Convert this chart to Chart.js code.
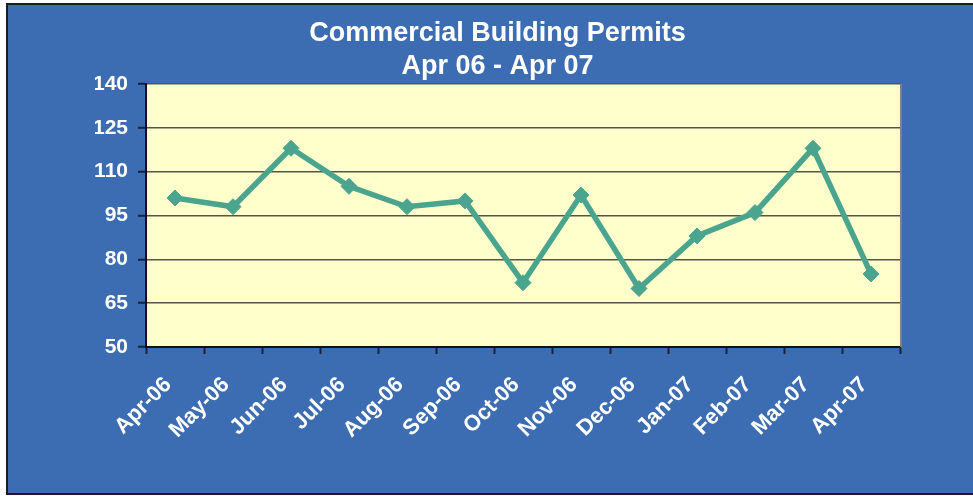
<!DOCTYPE html>
<html>
<head>
<meta charset="utf-8">
<script src="https://cdn.jsdelivr.net/npm/chart.js@4"></script>
<style>
  html, body { margin: 0; padding: 0; background: #fff; }
  #wrap {
    position: absolute; left: 6px; top: 3px;
    width: 967px; height: 492px;
    box-sizing: border-box;
    border: 2px solid #1c1c1c; border-right: none;
    background: #3c6cb1;
  }
  #wrap canvas { display: block; }
</style>
</head>
<body>
<div id="wrap"><canvas id="grafica" width="965" height="488"></canvas></div>
<script>
// datos
var meses = ['Apr-06','May-06','Jun-06','Jul-06','Aug-06','Sep-06','Oct-06','Nov-06','Dec-06','Jan-07','Feb-07','Mar-07','Apr-07'];
var permisos = [101, 98, 118, 105, 98, 100, 72, 102, 70, 88, 96, 118, 75];
var titulo = ['Commercial Building Permits', 'Apr 06 - Apr 07'];
var yMin = 50, yMax = 140, yPaso = 15;

// fondo amarillo del area y borde derecho gris
var plugin = {
  id: 'fondoArea',
  beforeDraw: function (chart) {
    var a = chart.chartArea, ctx = chart.ctx;
    ctx.save();
    ctx.fillStyle = '#ffffcc';
    ctx.fillRect(a.left, a.top, a.right - a.left, a.bottom - a.top);
    ctx.restore();
  },
  afterDatasetsDraw: function (chart) {
    var a = chart.chartArea, ctx = chart.ctx;
    ctx.save();
    ctx.strokeStyle = '#808080';
    ctx.lineWidth = 2;
    ctx.beginPath();
    ctx.moveTo(a.right + 1, a.top);
    ctx.lineTo(a.right + 1, a.bottom);
    ctx.stroke();
    ctx.restore();
  }
};

var w = new Chart(document.getElementById('grafica'), {
  type: 'line',
  data: {
    labels: meses,
    datasets: [{
      data: permisos,
      borderColor: '#4ba58e',
      backgroundColor: '#4ba58e',
      borderWidth: 5.5,
      pointStyle: 'rectRot',
      pointRadius: 8,
      pointBorderWidth: 1,
      tension: 0,
      fill: false
    }]
  },
  options: {
    animation: false,
    responsive: false,
    // padding izquierdo para centrar el titulo como en el original
    layout: { padding: { left: 87, right: 73, top: 0, bottom: 0 } },
    plugins: {
      legend: { display: false },
      tooltip: { enabled: false },
      title: {
        display: true,
        text: titulo,
        color: '#ffffff',
        font: { family: 'Liberation Sans, Arial, sans-serif', size: 27, weight: 'bold', lineHeight: '33px' },
        padding: { top: 12, bottom: 1 }
      }
    },
    scales: {
      x: {
        offset: true,
        grid: {
          offset: true,
          drawOnChartArea: false,
          drawTicks: true,
          tickLength: 7,
          tickColor: '#1a2233',
          tickWidth: 2
        },
        border: { display: true, color: '#111111', width: 2 },
        ticks: {
          color: '#ffffff',
          minRotation: 45,
          maxRotation: 45,
          padding: 18,
          labelOffset: -7,
          font: { family: 'Liberation Sans, Arial, sans-serif', size: 22, weight: 'bold' }
        },
        afterFit: function (s) { s.height = 146; }
      },
      y: {
        min: yMin,
        max: yMax,
        ticks: {
          stepSize: yPaso,
          color: '#ffffff',
          padding: 10,
          font: { family: 'Liberation Sans, Arial, sans-serif', size: 21, weight: 'bold' }
        },
        grid: {
          color: '#55554a',
          lineWidth: 1.5,
          tickLength: 8,
          tickColor: '#1a2233',
          tickWidth: 2
        },
        border: { display: true, color: '#111111', width: 2 },
        afterFit: function (s) { s.width = 51; }
      }
    }
  },
  plugins: [plugin]
});
</script>
</body>
</html>
